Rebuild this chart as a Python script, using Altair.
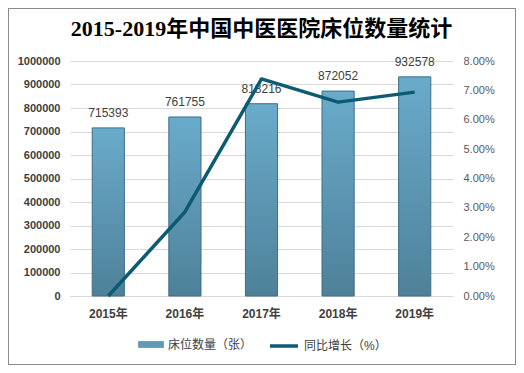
import altair as alt
import pandas as pd

years = ["2015年", "2016年", "2017年", "2018年", "2019年"]
beds = [715393, 761755, 818216, 872052, 932578]
growth_pct = [0.0, 2.86, 7.39, 6.60, 6.94]
bed_ticks = [0, 100000, 200000, 300000, 400000, 500000, 600000, 700000, 800000, 900000, 1000000]
pct_ticks = [0.0, 0.01, 0.02, 0.03, 0.04, 0.05, 0.06, 0.07, 0.08]

bar_name = "床位数量（张）"
line_name = "同比增长（%）"

df = pd.DataFrame({
    "year": years,
    "beds": beds,
    "growth": [g / 100 for g in growth_pct],
})

PL, PT, PR, PB = 62, 53, 63, 69
W, H = 383, 235

font = "Liberation Sans, Noto Sans CJK SC"

x_enc = alt.X("year:N", sort=years,
              scale=alt.Scale(paddingInner=0.58, paddingOuter=0.29),
              axis=alt.Axis(title=None, labelAngle=0, labelFontWeight="bold",
                            labelFontSize=12, labelColor="#404040", labelPadding=12,
                            ticks=False, domain=True, domainColor="#d9d9d9",
                            labelFont=font))

y_axis = alt.Axis(title=None, values=bed_ticks,
                  format="d", labelFontWeight="bold", labelFontSize=11,
                  labelColor="#404040", labelPadding=10, ticks=False,
                  labelOverlap=False, tickCount=11,
                  domain=False, gridColor="#d9d9d9", labelFont=font)
y_scale = alt.Scale(domain=[0, 1000000])

grad = alt.LinearGradient(
    gradient="linear",
    stops=[alt.GradientStop(color="#6aabcb", offset=0),
           alt.GradientStop(color="#4e8199", offset=1)],
    x1=0, x2=0, y1=0, y2=1,
)

bars = alt.Chart(df).mark_bar(fill=grad, stroke="#3d6e85", strokeWidth=1).encode(
    x=x_enc,
    y=alt.Y("beds:Q", scale=y_scale, axis=y_axis),
    color=alt.Color("lb:N", scale=alt.Scale(domain=[bar_name], range=["#5f9bb9"]),
                    legend=alt.Legend(title=None, orient="none", legendX=68, legendY=270.5,
                                      symbolType="M-1,-0.24L1,-0.24L1,0.24L-1,0.24Z",
                                      symbolSize=625, symbolStrokeColor="#3d6e85",
                                      symbolStrokeWidth=0.5,
                                      labelFontSize=12, labelColor="#404040",
                                      labelFont=font)),
).transform_calculate(lb=f"'{bar_name}'")

labels = alt.Chart(df).mark_text(dy=-15, fontSize=12, color="#404040", font=font).encode(
    x=alt.X("year:N", sort=years),
    y=alt.Y("beds:Q", scale=y_scale, axis=y_axis),
    text=alt.Text("beds:Q", format="d"),
)

line = alt.Chart(df).mark_line(strokeWidth=3.5, strokeJoin="round").encode(
    x=alt.X("year:N", sort=years, bandPosition=0.5),
    y=alt.Y("growth:Q", scale=alt.Scale(domain=[0, 0.08]),
            axis=alt.Axis(title=None, orient="right", format=".2%",
                          values=pct_ticks,
                          labelFontSize=11, labelColor="#595959", labelPadding=10,
                          labelOverlap=False,
                          ticks=False, domain=False, grid=False, labelFont=font)),
    stroke=alt.Stroke("ll:N", scale=alt.Scale(domain=[line_name], range=["#0d5a73"]),
                      legend=alt.Legend(title=None, orient="none", legendX=198, legendY=269,
                                        symbolType="stroke",
                                        symbolStrokeWidth=3.5, symbolSize=784,
                                        labelFontSize=12, labelColor="#404040",
                                        labelFont=font)),
).transform_calculate(ll=f"'{line_name}'")

frame = alt.Chart(df).mark_rect(fill=None, stroke="#8c8c8c", strokeWidth=1).encode(
    x=alt.value(-PL + 0.5), x2=alt.value(W + PR - 0.5),
    y=alt.value(-PT + 0.5), y2=alt.value(H + PB - 0.5),
)

left = alt.layer(bars, labels)
chart = alt.layer(frame, left, line).resolve_scale(
    y="independent", color="independent", stroke="independent"
).properties(
    width=W, height=H,
    title=alt.Title("2015-2019年中国中医医院床位数量统计",
                    font="Liberation Serif, Noto Sans CJK SC", fontSize=22,
                    fontWeight="bold", color="#000000", offset=0, dy=33,
                    anchor="middle"),
    padding={"left": PL, "top": PT, "right": PR, "bottom": PB},
    autosize=alt.AutoSizeParams(type="none"),
).configure_view(stroke=None)

chart.save("out.html", embed_options={"renderer": "svg", "actions": False})
